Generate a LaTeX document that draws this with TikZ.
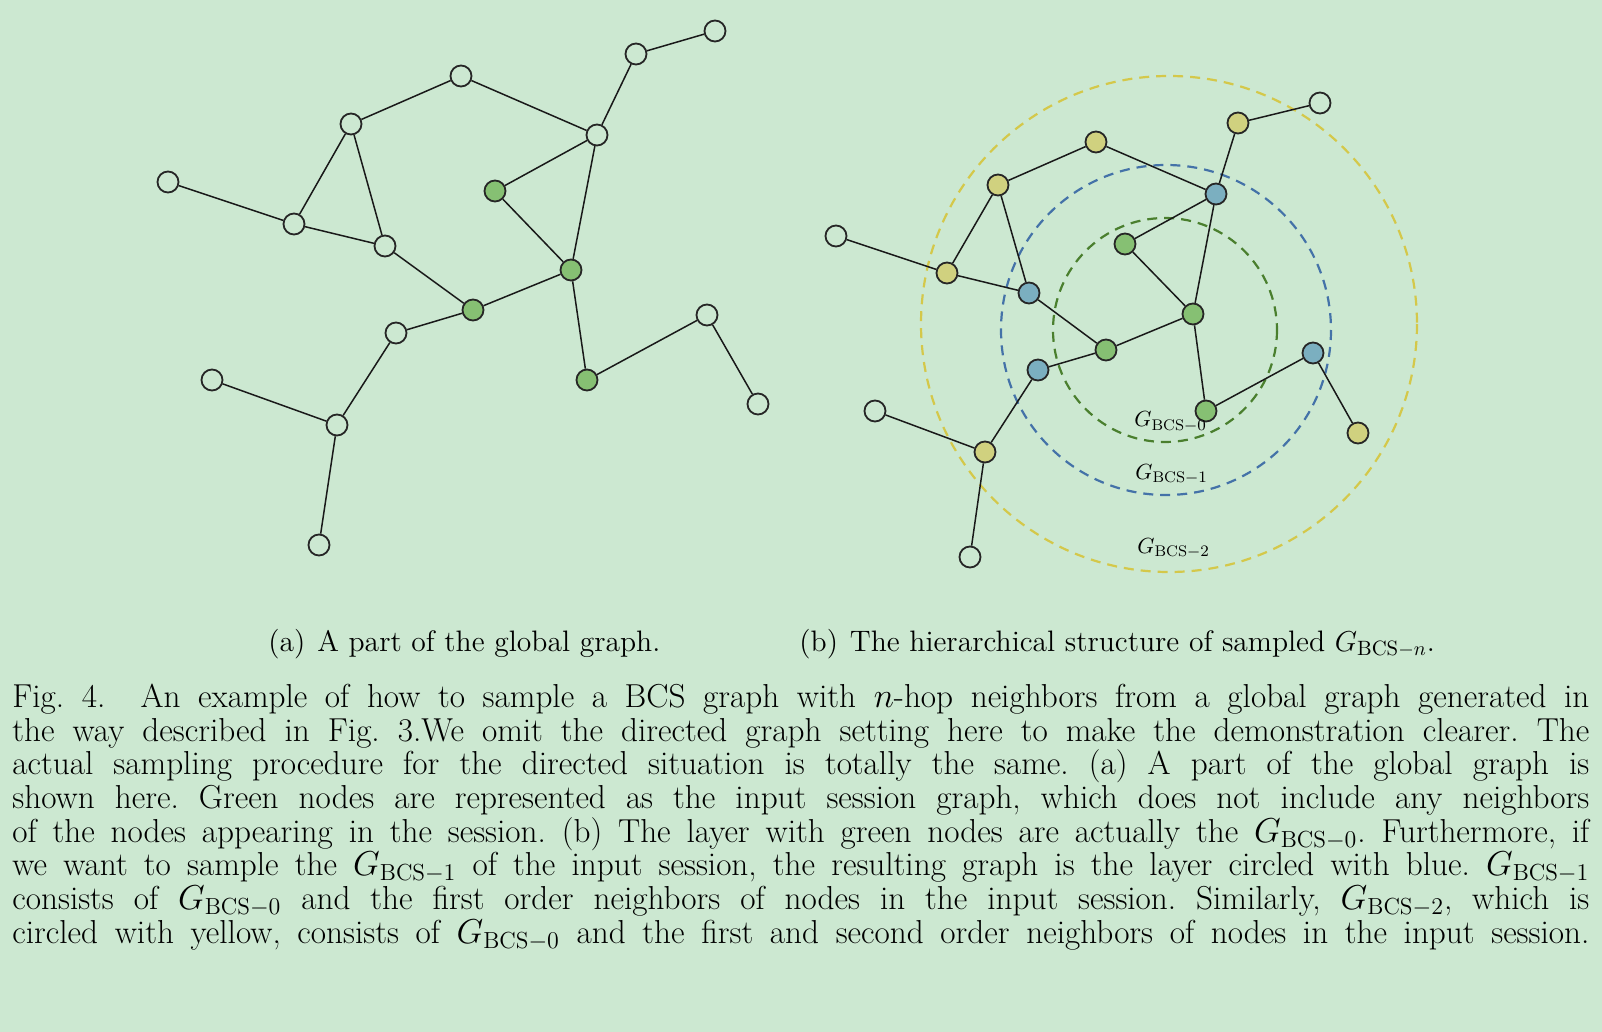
\documentclass[tikz,border=0pt]{standalone}
\usepackage{fontspec}
\definecolor{bgcol}{HTML}{CCE8D1}
\definecolor{ngreen}{HTML}{86C073}
\definecolor{nblue}{HTML}{7BAFC0}
\definecolor{nyellow}{HTML}{D0D17F}
\definecolor{rgreen}{HTML}{4A7F2E}
\definecolor{rblue}{HTML}{4472A8}
\definecolor{ryellow}{HTML}{D4C84A}
\newcommand\Gb[1]{$G_{\mathrm{BCS}-#1}$}
\newcommand\Gc[1]{\smash{\Gb{#1}}}
\frenchspacing
\begin{document}
\begin{tikzpicture}[x=0.5pt,y=-0.5pt,
  vtx/.style={circle,draw=black!85,line width=0.9pt,minimum size=10.5pt,inner sep=0pt},
  wn/.style={vtx},
  gn/.style={vtx,fill=ngreen},
  yn/.style={vtx,fill=nyellow},
  bn/.style={vtx,fill=nblue},
  edge/.style={line width=0.75pt,draw=black!90},
  ring/.style={dash pattern=on 5pt off 3.5pt,line width=1.1pt},
  capline/.style={anchor=base west,inner sep=0pt,font=\fontsize{16.6}{19}\selectfont},
  subcap/.style={anchor=base west,inner sep=0pt,font=\fontsize{14.8}{17}\selectfont},
  sublabel/.style={anchor=base west,inner sep=0pt,font=\fontsize{11}{13}\selectfont}
]
\fill[bgcol] (0,0) rectangle (1602,1032);
\useasboundingbox (0,0) rectangle (1602,1032);

% ---------- rings ----------
\coordinate (cy) at (1169,324);
\coordinate (cb) at (1166,330);
\coordinate (cg) at (1165,330);
\draw[ring,ryellow] (cy) circle[radius=248];
\draw[ring,rblue] (cb) circle[radius=165];
\draw[ring,rgreen] (cg) circle[radius=112];

% ---------- left graph ----------
\node[wn] (a1) at (715,31) {};
\node[wn] (a2) at (636,54) {};
\node[wn] (a3) at (461,76) {};
\node[wn] (a4) at (351,124) {};
\node[wn] (a5) at (597,135) {};
\node[wn] (a6) at (168,182) {};
\node[gn] (a7) at (495,191) {};
\node[wn] (a8) at (294,224) {};
\node[wn] (a9) at (385,246) {};
\node[gn] (a10) at (571,270) {};
\node[gn] (a11) at (473,310) {};
\node[wn] (a12) at (396,333) {};
\node[wn] (a13) at (707,315) {};
\node[gn] (a14) at (587,380) {};
\node[wn] (a15) at (212,380) {};
\node[wn] (a16) at (758,404) {};
\node[wn] (a17) at (337,425) {};
\node[wn] (a18) at (319,545) {};
\foreach \u/\v in {a1/a2,a2/a5,a3/a4,a3/a5,a4/a8,a4/a9,a6/a8,a8/a9,a5/a7,a5/a10,a7/a10,a9/a11,a10/a11,a11/a12,a10/a14,a14/a13,a13/a16,a12/a17,a15/a17,a17/a18}
  \draw[edge] (\u) -- (\v);

% ---------- right graph ----------
\node[wn] (b1) at (1320,103) {};
\node[yn] (b2) at (1238,123) {};
\node[yn] (b3) at (1096,142) {};
\node[yn] (b4) at (998,185) {};
\node[bn] (b5) at (1216,194) {};
\node[wn] (b6) at (836,236) {};
\node[gn] (b7) at (1125,244) {};
\node[yn] (b8) at (947,273) {};
\node[bn] (b9) at (1029,293) {};
\node[gn] (b10) at (1193,314) {};
\node[gn] (b11) at (1106,350) {};
\node[bn] (b12) at (1038,370) {};
\node[bn] (b13) at (1313,353) {};
\node[gn] (b14) at (1206,411) {};
\node[wn] (b15) at (875,411) {};
\node[yn] (b16) at (1358,433) {};
\node[yn] (b17) at (985,452) {};
\node[wn] (b18) at (970,557) {};
\foreach \u/\v in {b1/b2,b2/b5,b3/b4,b3/b5,b4/b8,b4/b9,b6/b8,b8/b9,b5/b7,b5/b10,b7/b10,b9/b11,b10/b11,b11/b12,b10/b14,b14/b13,b13/b16,b12/b17,b15/b17,b17/b18}
  \draw[edge] (\u) -- (\v);

% ---------- ring labels ----------
\node[sublabel] (g0) at (1134,427) {\Gb{0}};
\node[sublabel] (g1) at (1135,479.5) {\Gb{1}};
\node[sublabel] (g2) at (1137,553) {\Gb{2}};

% ---------- sub captions ----------
\node[subcap] (sa) at (268,651) {(a)\hspace{0.4em}A part of the global graph.};
\node[subcap] (sb) at (799,651) {(b)\hspace{0.4em}The hierarchical structure of sampled \Gb{n}.};

% ---------- caption ----------
\node[capline] (c1) at (12,707.3) {\makebox[788.5pt][s]{Fig. 4.\ \ An example of how to sample a BCS graph with $n$-hop neighbors from a global graph generated in}};
\node[capline] (c2) at (12,741.0) {\makebox[788.5pt][s]{the way described in Fig. 3.We omit the directed graph setting here to make the demonstration clearer. The}};
\node[capline] (c3) at (12,774.7) {\makebox[788.5pt][s]{actual sampling procedure for the directed situation is totally the same. (a) A part of the global graph is}};
\node[capline] (c4) at (12,808.4) {\makebox[788.5pt][s]{shown here. Green nodes are represented as the input session graph, which does not include any neighbors}};
\node[capline] (c5) at (12,842.1) {\makebox[788.5pt][s]{of the nodes appearing in the session. (b) The layer with green nodes are actually the \Gc{0}. Furthermore, if}};
\node[capline] (c6) at (12,875.8) {\makebox[788.5pt][s]{we want to sample the \Gc{1} of the input session, the resulting graph is the layer circled with blue. \Gc{1}}};
\node[capline] (c7) at (12,909.5) {\makebox[788.5pt][s]{consists of \Gc{0} and the first order neighbors of nodes in the input session. Similarly, \Gc{2}, which is}};
\node[capline] (c8) at (12,943.2) {\makebox[788.5pt][s]{circled with yellow, consists of \Gc{0} and the first and second order neighbors of nodes in the input session.}};
\end{tikzpicture}
\end{document}
